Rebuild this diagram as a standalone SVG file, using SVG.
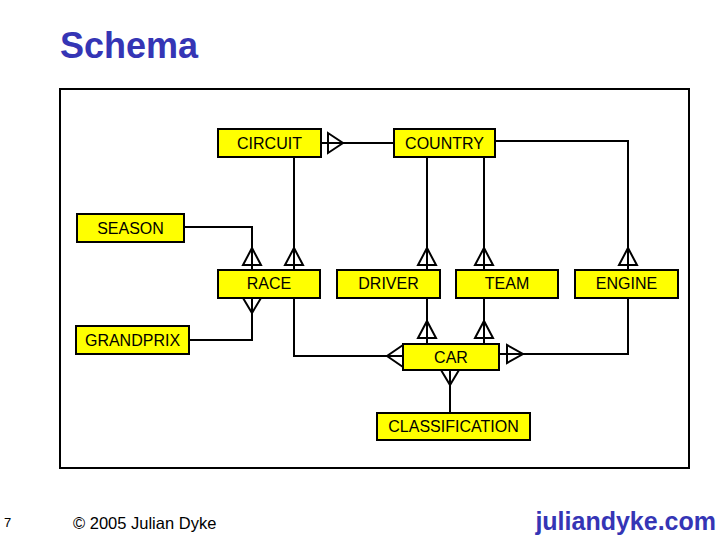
<svg xmlns="http://www.w3.org/2000/svg" width="720" height="540" viewBox="0 0 720 540">
<style>
.box{fill:#ffff00;stroke:#000;stroke-width:2}
.lbl{font-family:"Liberation Sans",Arial,sans-serif;font-size:16px;fill:#000;text-anchor:middle}
.ln{fill:none;stroke:#000;stroke-width:2}
.tri{fill:none;stroke:#000;stroke-width:2;stroke-linejoin:miter}
</style>
<rect width="720" height="540" fill="#fff"/>
<text x="60" y="58" font-family="Liberation Sans,Arial,sans-serif" font-size="36" font-weight="bold" fill="#3535b5">Schema</text>
<rect x="60" y="89" width="629" height="379" fill="none" stroke="#000" stroke-width="2"/>
<g id="connectors">
<path class="ln" d="M321,143 H394"/>
<polygon class="tri" points="328,133 328,153 343,143"/>
<path class="ln" d="M495,141 H628 V270"/>
<polygon class="tri" points="619,265 637,265 628,248"/>
<path class="ln" d="M294,157 V270"/>
<polygon class="tri" points="285,265 303,265 294,248"/>
<path class="ln" d="M184,227 H252 V270"/>
<polygon class="tri" points="243,265 261,265 252,248"/>
<path class="ln" d="M427,157 V270"/>
<polygon class="tri" points="418,265 436,265 427,248"/>
<path class="ln" d="M484,157 V270"/>
<polygon class="tri" points="475,265 493,265 484,248"/>
<path class="ln" d="M189,340 H252 V298"/>
<polyline class="tri" points="243,298 252,313 261,298"/>
<path class="ln" d="M294,298 V356 H403"/>
<polyline class="tri" points="403,345 387,356 403,367"/>
<path class="ln" d="M427,298 V344"/>
<polygon class="tri" points="418,338 436,338 427,321"/>
<path class="ln" d="M484,298 V344"/>
<polygon class="tri" points="475,338 493,338 484,321"/>
<path class="ln" d="M499,354 H628 V298"/>
<polygon class="tri" points="507,345 507,363 523,354"/>
<path class="ln" d="M450,370 V413"/>
<polyline class="tri" points="441,370 450,385 459,370"/>
</g>
<g id="CIRCUIT"><rect class="box" x="218" y="129" width="103" height="28"/><text class="lbl" x="269.5" y="149">CIRCUIT</text></g>
<g id="COUNTRY"><rect class="box" x="394" y="129" width="101" height="28"/><text class="lbl" x="444.5" y="149">COUNTRY</text></g>
<g id="SEASON"><rect class="box" x="77" y="214" width="107" height="28"/><text class="lbl" x="130.5" y="234">SEASON</text></g>
<g id="RACE"><rect class="box" x="218" y="270" width="102" height="28"/><text class="lbl" x="269" y="289">RACE</text></g>
<g id="DRIVER"><rect class="box" x="337" y="270" width="103" height="28"/><text class="lbl" x="388.5" y="289">DRIVER</text></g>
<g id="TEAM"><rect class="box" x="456" y="270" width="102" height="28"/><text class="lbl" x="507" y="289">TEAM</text></g>
<g id="ENGINE"><rect class="box" x="575" y="270" width="103" height="28"/><text class="lbl" x="626.5" y="289">ENGINE</text></g>
<g id="GRANDPRIX"><rect class="box" x="76" y="326" width="113" height="28"/><text class="lbl" x="132.5" y="346">GRANDPRIX</text></g>
<g id="CAR"><rect class="box" x="403" y="344" width="96" height="26"/><text class="lbl" x="451" y="363">CAR</text></g>
<g id="CLASSIFICATION"><rect class="box" x="377" y="413" width="153" height="27"/><text class="lbl" x="453.5" y="432">CLASSIFICATION</text></g>
<text x="4" y="527" font-family="Liberation Sans,Arial,sans-serif" font-size="13" fill="#000">7</text>
<text x="73" y="529" font-family="Liberation Sans,Arial,sans-serif" font-size="16.5" fill="#000">© 2005 Julian Dyke</text>
<text x="716" y="530" font-family="Liberation Sans,Arial,sans-serif" font-size="25" font-weight="bold" fill="#3535b5" text-anchor="end">juliandyke.com</text>
</svg>
